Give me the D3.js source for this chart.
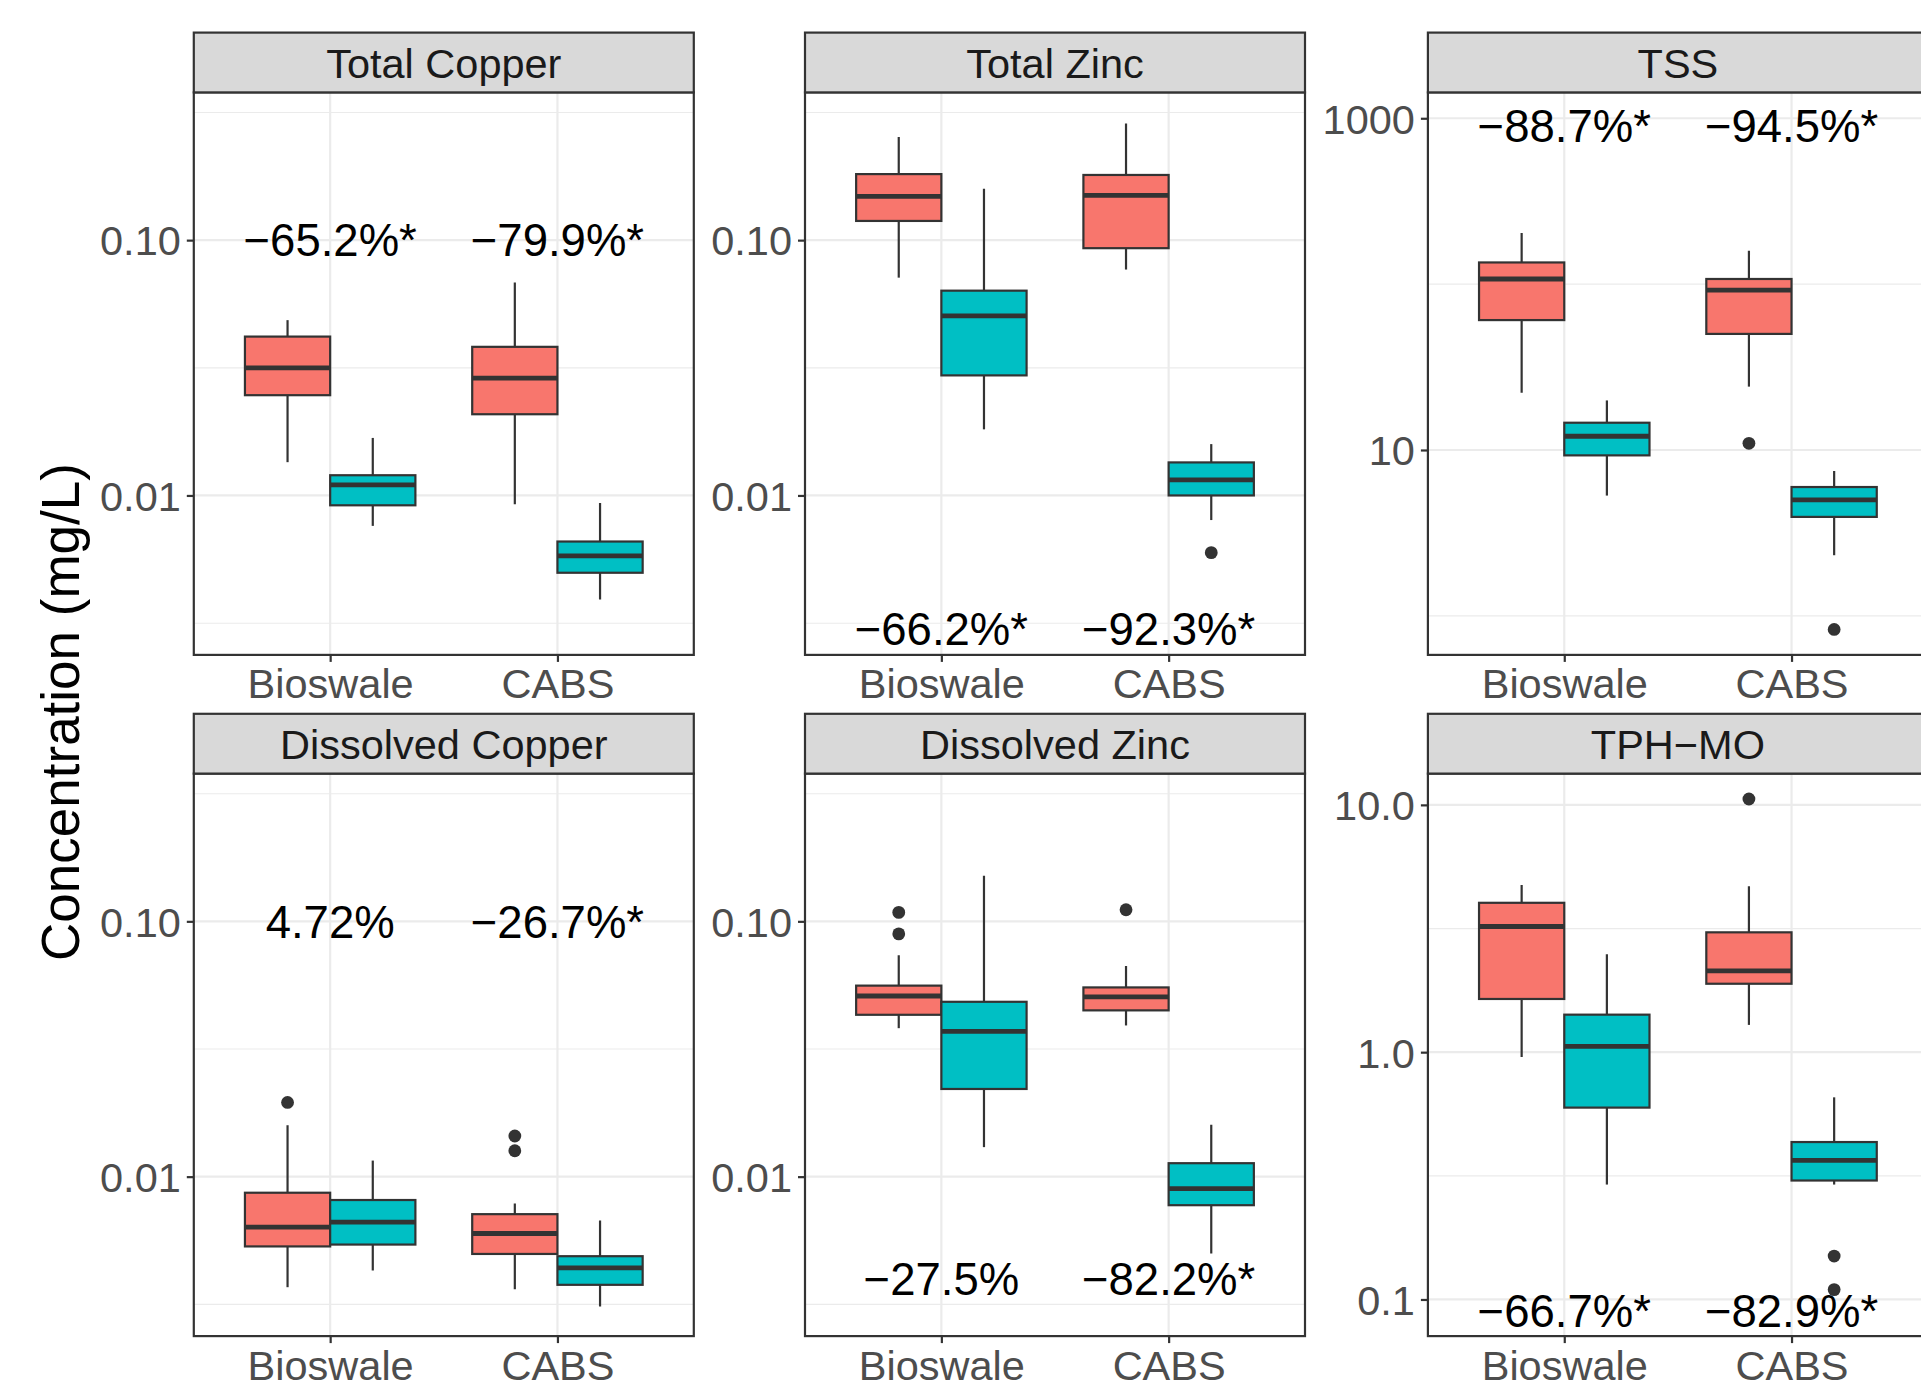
<!DOCTYPE html>
<html><head><meta charset="utf-8">
<script src="https://cdn.jsdelivr.net/npm/d3@7"></script>
<style>body{margin:0;background:#fff} svg{display:block}</style>
</head><body>
<svg id="c" width="1921" height="1391"></svg>
<script>
// ---------- DATA ----------
const panelNames = ["Total Copper", "Total Zinc", "TSS", "Dissolved Copper", "Dissolved Zinc", "TPH\u2212MO"];
const sites = ["Bioswale", "CABS"];
const groups = ["Influent", "Effluent"];
// each box: [lower whisker, Q1, median, Q3, upper whisker]; order: Bioswale-Influent, Bioswale-Effluent, CABS-Influent, CABS-Effluent
const totalCopper = [[0.0135, 0.0247, 0.0316, 0.0419, 0.0486], [0.0076, 0.00915, 0.0110, 0.0120, 0.0168], [0.00923, 0.0208, 0.0288, 0.0382, 0.0682], [0.00391, 0.00498, 0.0058, 0.0066, 0.00934]];
const totalZinc = [[0.0713, 0.1189, 0.1484, 0.1814, 0.2534], [0.01815, 0.02953, 0.0505, 0.0634, 0.1589], [0.0767, 0.0930, 0.1496, 0.180, 0.286], [0.00801, 0.0100, 0.01151, 0.01347, 0.01589]];
const tss = [[22.1, 60.7, 107.4, 135.1, 203.3], [5.31, 9.28, 12.1, 14.6, 19.9], [24.1, 50.1, 92.0, 107.4, 158.7], [2.32, 3.95, 5.0, 5.98, 7.47]];
const dissolvedCopper = [[0.00369, 0.00533, 0.00634, 0.00865, 0.0159], [0.00429, 0.00542, 0.00663, 0.0081, 0.01156], [0.00362, 0.00498, 0.00599, 0.00713, 0.00785], [0.0031, 0.00377, 0.00439, 0.00488, 0.00673]];
const dissolvedZinc = [[0.03815, 0.04305, 0.051, 0.056, 0.0736], [0.01305, 0.02205, 0.0371, 0.0484, 0.1508], [0.0391, 0.0448, 0.0506, 0.0551, 0.0668], [0.005, 0.00773, 0.00897, 0.01129, 0.01597]];
const tphMo = [[0.955, 1.641, 3.222, 4.018, 4.745], [0.2915, 0.5968, 1.056, 1.418, 2.489], [1.289, 1.891, 2.133, 3.052, 4.687], [0.2915, 0.3027, 0.365, 0.4331, 0.6567]];
// outliers per box
const totalCopperOut = [[], [], [], []];
const totalZincOut = [[], [], [], [0.00597]];
const tssOut = [[], [], [10.97], [0.828]];
const dissolvedCopperOut = [[0.01953], [], [0.01443, 0.01263], []];
const dissolvedZincOut = [[0.1084, 0.0893], [], [0.111], []];
const tphMoOut = [[], [], [10.56], [0.1498, 0.1096]];
// reduction labels (one per site) and the value at which they sit
const reductionLabels = [["\u221265.2%*", "\u221279.9%*"], ["\u221266.2%*", "\u221292.3%*"], ["\u221288.7%*", "\u221294.5%*"], ["4.72%", "\u221226.7%*"], ["\u221227.5%", "\u221282.2%*"], ["\u221266.7%*", "\u221282.9%*"]];
const labelValues = [0.1, 0.003, 900, 0.1, 0.004, 0.09];
// y axes
const yDomains = [[0.002374, 0.379], [0.002374, 0.379], [0.5815, 1432], [0.002374, 0.379], [0.002374, 0.379], [0.0711, 13.38]];
const yTicks = [[0.01, 0.1], [0.01, 0.1], [10, 1000], [0.01, 0.1], [0.01, 0.1], [0.1, 1, 10]];
const yTickLabels = [["0.01", "0.10"], ["0.01", "0.10"], ["10", "1000"], ["0.01", "0.10"], ["0.01", "0.10"], ["0.1", "1.0", "10.0"]];
const yMinorTicks = [[0.00316, 0.0316, 0.316], [0.00316, 0.0316, 0.316], [1, 100], [0.00316, 0.0316, 0.316], [0.00316, 0.0316, 0.316], [0.316, 3.16]];
const yTitle = "Concentration (mg/L)";

// ---------- LAYOUT ----------
const boxStats = [totalCopper, totalZinc, tss, dissolvedCopper, dissolvedZinc, tphMo];
const boxOutliers = [totalCopperOut, totalZincOut, tssOut, dissolvedCopperOut, dissolvedZincOut, tphMoOut];
const FONT = "'Liberation Sans', Arial, Helvetica, sans-serif";
const colLeft = [193.8, 805, 1427.9];
const panelW = 500;
const stripTop = [32.6, 713.8];
const stripH = 59.8;
const plotH = 562.5;
const fillColor = d3.scaleOrdinal().domain(groups).range(["#F8766D", "#00BFC4"]);
const DARK = "#333333";

const svg = d3.select("#c");
const defs = svg.append("defs");

panelNames.forEach((name, i) => {
  const col = i % 3, row = Math.floor(i / 3);
  const x0 = colLeft[col], x1 = x0 + panelW;
  const st = stripTop[row], pt = st + stripH, pb = pt + plotH;
  const x = d3.scalePoint().domain(sites).range([x0, x1]).padding(0.6);
  const step = x.step();
  const dodge = d3.scaleBand().domain(groups).range([-step * 0.375, step * 0.375]).padding(0);
  const y = d3.scaleLog().domain(yDomains[i]).range([pb, pt]);

  const clipId = "clip" + i;
  defs.append("clipPath").attr("id", clipId).append("rect")
    .attr("x", x0).attr("y", pt).attr("width", panelW).attr("height", plotH);

  const g = svg.append("g");
  const inner = g.append("g").attr("clip-path", `url(#${clipId})`);
  inner.append("rect").attr("x", x0).attr("y", pt).attr("width", panelW).attr("height", plotH).attr("fill", "#fff");

  // grid
  inner.selectAll(".minor").data(yMinorTicks[i]).join("line")
    .attr("x1", x0).attr("x2", x1).attr("y1", d => y(d)).attr("y2", d => y(d))
    .attr("stroke", "#EBEBEB").attr("stroke-width", 1.1);
  inner.selectAll(".majorY").data(yTicks[i]).join("line")
    .attr("x1", x0).attr("x2", x1).attr("y1", d => y(d)).attr("y2", d => y(d))
    .attr("stroke", "#EBEBEB").attr("stroke-width", 2.2);
  inner.selectAll(".majorX").data(sites).join("line")
    .attr("x1", d => x(d)).attr("x2", d => x(d)).attr("y1", pt).attr("y2", pb)
    .attr("stroke", "#EBEBEB").attr("stroke-width", 2.2);

  // boxes
  const boxes = boxStats[i].map((s, k) => ({
    site: sites[Math.floor(k / 2)], group: groups[k % 2], s: s, out: boxOutliers[i][k]
  }));
  const bw = dodge.bandwidth();
  boxes.forEach(b => {
    const left = x(b.site) + dodge(b.group);
    const cx = left + bw / 2;
    const [lo, q1, med, q3, hi] = b.s;
    const bg = inner.append("g");
    bg.append("line").attr("x1", cx).attr("x2", cx).attr("y1", y(hi)).attr("y2", y(q3))
      .attr("stroke", DARK).attr("stroke-width", 2.2);
    bg.append("line").attr("x1", cx).attr("x2", cx).attr("y1", y(q1)).attr("y2", y(lo))
      .attr("stroke", DARK).attr("stroke-width", 2.2);
    bg.append("rect").attr("x", left).attr("y", y(q3)).attr("width", bw).attr("height", y(q1) - y(q3))
      .attr("fill", fillColor(b.group)).attr("stroke", DARK).attr("stroke-width", 2.2);
    bg.append("line").attr("x1", left).attr("x2", left + bw).attr("y1", y(med)).attr("y2", y(med))
      .attr("stroke", DARK).attr("stroke-width", 4.8);
    bg.selectAll("circle").data(b.out).join("circle")
      .attr("cx", cx).attr("cy", d => y(d)).attr("r", 6.4).attr("fill", DARK);
  });

  // reduction labels
  const LFS = 45.5;
  inner.selectAll(".lab").data(sites).join("text")
    .attr("x", d => x(d)).attr("y", y(labelValues[i]) + 0.358 * LFS)
    .attr("text-anchor", "middle").attr("font-family", FONT).attr("font-size", LFS)
    .attr("fill", "#000").text((d, j) => reductionLabels[i][j]);

  // border
  g.append("rect").attr("x", x0).attr("y", pt).attr("width", panelW).attr("height", plotH)
    .attr("fill", "none").attr("stroke", DARK).attr("stroke-width", 2.2);

  // strip
  g.append("rect").attr("x", x0).attr("y", st).attr("width", panelW).attr("height", stripH)
    .attr("fill", "#D9D9D9").attr("stroke", DARK).attr("stroke-width", 2.2);
  const SFS = 41.5;
  g.append("text").attr("x", (x0 + x1) / 2).attr("y", st + stripH / 2 + 0.358 * SFS + 0.5)
    .attr("text-anchor", "middle").attr("font-family", FONT).attr("font-size", SFS)
    .attr("fill", "#1A1A1A").text(name);

  // axes
  const TFS = 41.5;
  const ya = g.append("g").attr("transform", `translate(${x0},0)`)
    .call(d3.axisLeft(y).tickValues(yTicks[i]).tickFormat((d, j) => yTickLabels[i][j]).tickSize(7).tickPadding(6));
  ya.select(".domain").remove();
  ya.selectAll(".tick line").attr("stroke", DARK).attr("stroke-width", 2.2);
  ya.selectAll(".tick text").attr("font-family", FONT).attr("font-size", TFS).attr("fill", "#4D4D4D").attr("dy", "0.358em");

  const xa = g.append("g").attr("transform", `translate(0,${pb})`)
    .call(d3.axisBottom(x).tickSize(7).tickPadding(7));
  xa.select(".domain").remove();
  xa.selectAll(".tick line").attr("stroke", DARK).attr("stroke-width", 2.2);
  xa.selectAll(".tick text").attr("font-family", FONT).attr("font-size", TFS).attr("fill", "#4D4D4D").attr("dy", "0.71em");
});

// y-axis title
svg.append("text")
  .attr("transform", "translate(79,712) rotate(-90)")
  .attr("text-anchor", "middle").attr("font-family", FONT).attr("font-size", 53)
  .attr("fill", "#000").text(yTitle);
</script>
</body></html>
